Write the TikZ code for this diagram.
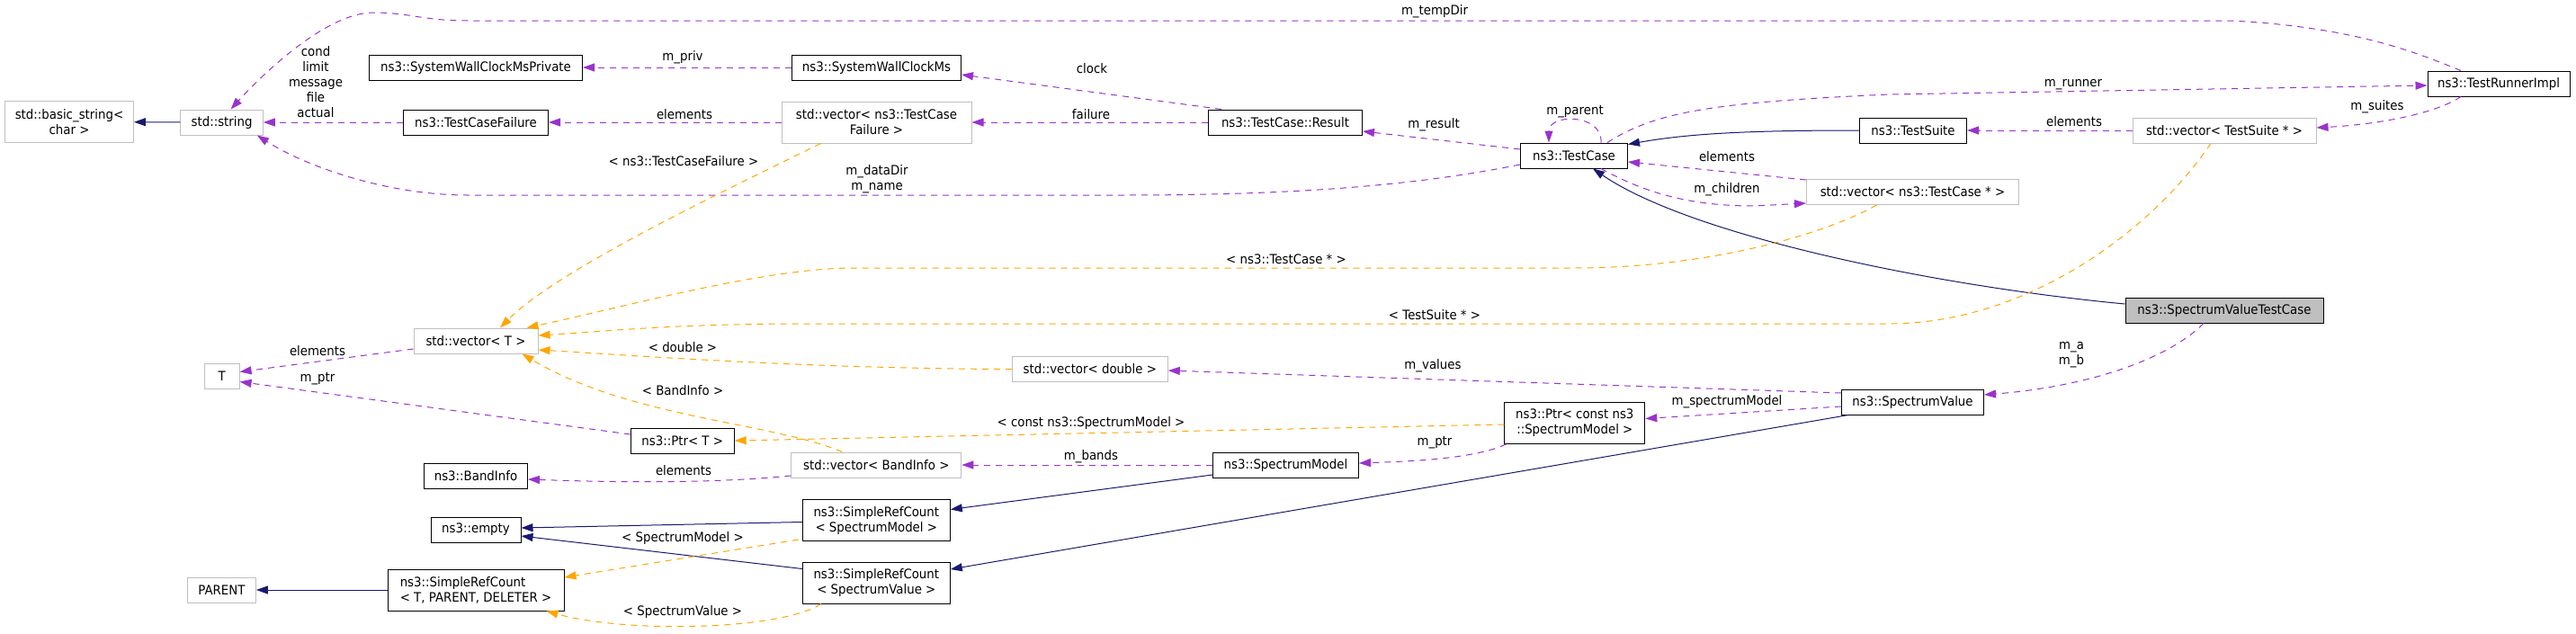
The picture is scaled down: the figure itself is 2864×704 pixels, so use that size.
\documentclass[tikz,border=0pt]{standalone}
\usepackage{fontspec}
\setmainfont{DejaVu Sans}[FakeStretch=0.92]
\usetikzlibrary{arrows.meta}
\definecolor{navy}{HTML}{191970}
\definecolor{usepurple}{HTML}{9A32CD}
\definecolor{tplorange}{HTML}{FFA500}
\definecolor{extgray}{HTML}{BFBFBF}

\begin{document}
\begin{tikzpicture}[x=1pt,y=-1pt,
	font=\fontsize{14.5}{17}\selectfont,
	>={Triangle[length=13pt,width=9pt]},
	cls/.style={draw=black,line width=1pt,minimum height=28pt,inner xsep=4pt,inner ysep=4pt,align=center},
	ext/.style={cls,draw=extgray},
	twoline/.style={minimum height=46pt},
	inh/.style={->,draw=navy,line width=1pt},
	use/.style={->,draw=usepurple,line width=1pt,dash pattern=on 7pt off 6pt},
	tpl/.style={->,draw=tplorange,line width=1pt,dash pattern=on 7pt off 6pt},
	lbl/.style={inner sep=0pt,align=center}]
	\useasboundingbox (0,0) rectangle (2864,704);

	% classes
	\node[ext,twoline,minimum width=143pt] (bstr) at (77,135.5) {std::basic\_string<\\char >};
	\node[ext,minimum width=91.5pt] (str) at (246.6,136) {std::string};
	\node[ext,minimum width=39pt] (T) at (246.6,418.5) {T};
	\node[ext,minimum width=76pt] (parent) at (246.4,656) {PARENT};
	\node[cls,minimum width=237pt] (swcp) at (529,75) {ns3::SystemWallClockMsPrivate};
	\node[cls,minimum width=161pt] (tcf) at (529,136) {ns3::TestCaseFailure};
	\node[ext,minimum width=138pt] (vT) at (529,379) {std::vector< T >};
	\node[cls,minimum width=115pt] (band) at (529,529) {ns3::BandInfo};
	\node[cls,minimum width=100pt] (empty) at (529,589) {ns3::empty};
	\node[cls,twoline,align=left,minimum width=196pt] (src) at (529,656) {ns3::SimpleRefCount\\< T, PARENT, DELETER >};
	\node[cls,minimum width=115pt] (ptrT) at (758.7,490) {ns3::Ptr< T >};
	\node[cls,minimum width=188pt] (swc) at (974.5,75) {ns3::SystemWallClockMs};
	\node[ext,twoline,minimum width=211pt] (vtcf) at (974.5,136) {std::vector< ns3::TestCase\\Failure >};
	\node[ext,minimum width=189pt] (vband) at (974.3,517) {std::vector< BandInfo >};
	\node[cls,twoline,minimum width=164pt] (srcm) at (974.3,578.5) {ns3::SimpleRefCount\\< SpectrumModel >};
	\node[cls,twoline,minimum width=164pt] (srcv) at (974.3,648) {ns3::SimpleRefCount\\< SpectrumValue >};
	\node[ext,minimum width=173pt] (vdbl) at (1211.8,410.5) {std::vector< double >};
	\node[cls,minimum width=171pt] (res) at (1429,136) {ns3::TestCase::Result};
	\node[cls,minimum width=162pt] (sm) at (1429.4,517) {ns3::SpectrumModel};
	\node[cls,minimum width=119pt] (tc) at (1750,173) {ns3::TestCase};
	\node[cls,twoline,minimum width=156pt] (ptrc) at (1750.8,470.5) {ns3::Ptr< const ns3\\::SpectrumModel >};
	\node[cls,minimum width=119pt] (suite) at (2127,145) {ns3::TestSuite};
	\node[ext,minimum width=236pt] (vtc) at (2126.5,213.5) {std::vector< ns3::TestCase * >};
	\node[cls,minimum width=158pt] (sv) at (2126.5,447) {ns3::SpectrumValue};
	\node[ext,minimum width=204pt] (vsuite) at (2473,145) {std::vector< TestSuite * >};
	\node[cls,fill=extgray,minimum width=220pt] (svtc) at (2473,345) {ns3::SpectrumValueTestCase};
	\node[cls,minimum width=158pt] (runner) at (2778,93) {ns3::TestRunnerImpl};

	% inheritance
	\draw[inh] (str) -- (bstr);
	\draw[inh] (src) -- (parent);
	\draw[inh] ([yshift=-2pt]srcm.west) -- ([yshift=2pt]empty.east);
	\draw[inh] ([yshift=-8pt]srcv.north west) -- ([yshift=-7pt]empty.east);
	\draw[inh] ([yshift=-11pt]sm.west) -- ([yshift=12pt]srcm.east);
	\draw[inh] ([xshift=8pt]sv.south west) -- ([yshift=15pt]srcv.east);
	\draw[inh] (suite.west) .. controls (1950,145) and (1880,148) .. ([yshift=-2pt]tc.north east);
	\draw[inh] ([yshift=7pt]svtc.west) .. controls (2150,318) and (1880,262) .. ([xshift=21pt]tc.south);

	% usage
	\draw[use] (tcf) -- (str);
	\draw[use] ([xshift=-42pt]runner.north) .. controls (2690,60) and (2620,30) .. (2480,23) -- (520,23)
		.. controls (470,23) and (455,14) .. (415,14) .. controls (360,14) and (285,90) .. ([xshift=10pt]str.north);
	\draw[use] ([yshift=-10pt]tc.west) .. controls (1580,205) and (1450,217) .. (1250,217) -- (520,217)
		.. controls (430,217) and (340,185) .. ([xshift=-7pt]str.south east);
	\draw[use] (swc) -- (swcp);
	\draw[use] (vtcf) -- (tcf);
	\draw[use] (res) -- (vtcf);
	\draw[use] ([xshift=15pt]res.north west) -- ([yshift=-8pt]swc.east);
	\draw[use] ([yshift=7pt]tc.west) -- ([yshift=-10pt]res.east);
	\draw[use] ([xshift=30pt]tc.north) .. controls (1782,126) and (1722,126) .. ([xshift=-28pt]tc.north);
	\draw[use] ([xshift=37pt]tc.north) .. controls (1840,125) and (1900,114) .. (2100,105) -- ([yshift=-2pt]runner.west);
	\draw[use] ([yshift=-1pt]vtc.north west) -- ([yshift=-7pt]tc.east);
	\draw[use] ([xshift=30pt]tc.south) .. controls (1830,215) and (1880,229) .. (1950,229) -- ([yshift=2pt]vtc.south west);
	\draw[use] (vsuite) -- (suite);
	\draw[use] ([xshift=-42pt]runner.south) .. controls (2710,125) and (2650,138) .. ([yshift=3pt]vsuite.east);
	\draw[use] ([yshift=-9pt]vT.west) -- ([yshift=5pt]T.east);
	\draw[use] ([yshift=7pt]ptrT.west) -- ([yshift=-6pt]T.east);
	\draw[use] ([yshift=-12pt]vband.west) .. controls (800,537) and (700,537) .. ([yshift=-4pt]band.east);
	\draw[use] (sm) -- (vband);
	\draw[use] ([xshift=2pt]ptrc.south west) .. controls (1640,510) and (1570,513) .. ([yshift=2pt]sm.east);
	\draw[use] ([yshift=-5pt]sv.west) -- ([yshift=5pt]ptrc.east);
	\draw[use] ([yshift=10pt]sv.west) -- ([yshift=-1.5pt]vdbl.east);
	\draw[use] ([xshift=-23pt]svtc.south) .. controls (2410,400) and (2320,430) .. ([yshift=8pt]sv.east);

	% template instances
	\draw[tpl] ([xshift=-62pt]vtcf.south) .. controls (800,215) and (620,300) .. ([xshift=27pt]vT.north);
	\draw[tpl] ([xshift=-40pt]vtc.south) .. controls (2030,260) and (1900,298) .. (1750,298) -- (950,298)
		.. controls (850,298) and (700,340) .. ([xshift=-13pt]vT.north east);
	\draw[tpl] ([xshift=-15pt]vsuite.south) .. controls (2390,260) and (2250,360) .. (2100,360) -- (900,360)
		.. controls (750,360) and (680,368) .. ([yshift=6pt]vT.east);
	\draw[tpl] (vdbl.west) .. controls (900,410) and (700,395) .. ([yshift=-10pt]vT.east);
	\draw[tpl] ([xshift=-38pt]vband.north) .. controls (860,470) and (700,465) .. ([xshift=-18pt]vT.south east);
	\draw[tpl] ([yshift=-1.5pt]ptrc.west) -- (ptrT.east);
	\draw[tpl] ([xshift=-4pt,yshift=2pt]srcm.south west) -- ([yshift=14pt]src.east);
	\draw[tpl] ([xshift=21pt]srcv.south west) .. controls (870,700) and (700,705) .. ([xshift=-20pt]src.south east);

	% labels
	\node[lbl] (lcond) at (351,91) {cond\\limit\\message\\file\\actual};
	\node[lbl] (lpriv) at (759,64) {m\_priv};
	\node[lbl] (lelemf) at (761,127) {elements};
	\node[lbl] (lfail) at (1213,127) {failure};
	\node[lbl] (lclock) at (1214,76) {clock};
	\node[lbl] (ltemp) at (1595,13) {m\_tempDir};
	\node[lbl] (ldata) at (975,199) {m\_dataDir\\m\_name};
	\node[lbl] (lres) at (1594,139) {m\_result};
	\node[lbl] (lpar) at (1751,124) {m\_parent};
	\node[lbl] (lrun) at (2305,94) {m\_runner};
	\node[lbl] (lelems) at (2306,135) {elements};
	\node[lbl] (lsuites) at (2643,119) {m\_suites};
	\node[lbl] (lelemc) at (1920,174) {elements};
	\node[lbl] (lchild) at (1920,211) {m\_children};
	\node[lbl] (ltcf) at (760,179) {< ns3::TestCaseFailure >};
	\node[lbl] (ltc) at (1430,288) {< ns3::TestCase * >};
	\node[lbl] (lts) at (1595,350) {< TestSuite * >};
	\node[lbl] (ldbl) at (759,386) {< double >};
	\node[lbl] (lbi) at (759,434) {< BandInfo >};
	\node[lbl] (lelemt) at (353,390) {elements};
	\node[lbl] (lptrt) at (353,421) {m\_ptr};
	\node[lbl] (lcsm) at (1213,470) {< const ns3::SpectrumModel >};
	\node[lbl] (lval) at (1593,407) {m\_values};
	\node[lbl] (lspm) at (1920,447) {m\_spectrumModel};
	\node[lbl] (lptrm) at (1595,492) {m\_ptr};
	\node[lbl] (lbands) at (1213,508) {m\_bands};
	\node[lbl] (lelemb) at (760,523) {elements};
	\node[lbl] (lsm) at (759,598) {< SpectrumModel >};
	\node[lbl] (lsv) at (759,680) {< SpectrumValue >};
	\node[lbl] (lab) at (2303,395) {m\_a\\m\_b};
\end{tikzpicture}
\end{document}
